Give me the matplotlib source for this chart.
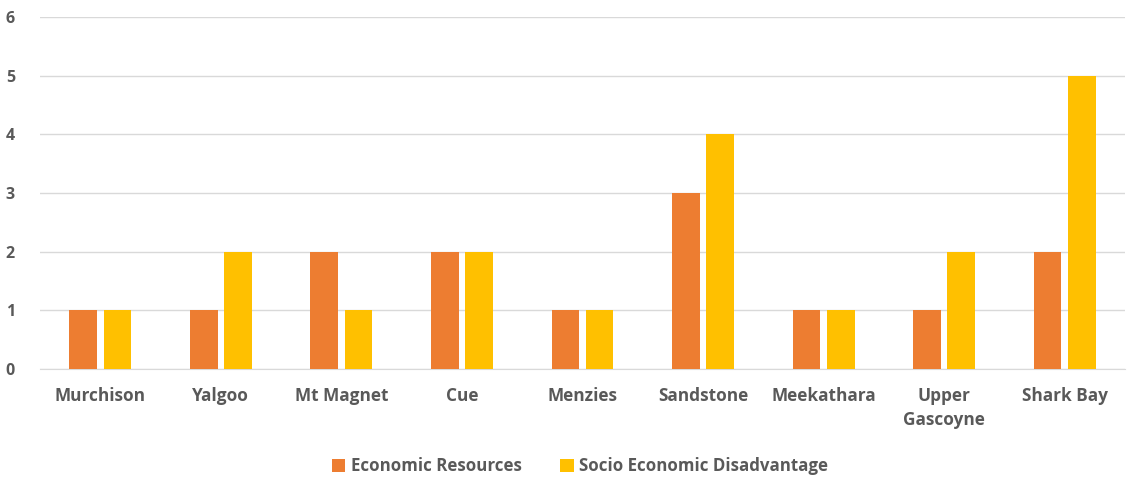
import matplotlib
matplotlib.use("Agg")
import matplotlib.pyplot as plt
import numpy as np

categories = ["Murchison", "Yalgoo", "Mt Magnet", "Cue", "Menzies", "Sandstone",
              "Meekathara", "Upper\nGascoyne", "Shark Bay"]
economic_resources = [1, 1, 2, 2, 1, 3, 1, 1, 2]
socio_economic = [1, 2, 1, 2, 1, 4, 1, 2, 5]
yticks = [0, 1, 2, 3, 4, 5, 6]

plt.rcParams['font.family'] = ['Open Sans', 'DejaVu Sans']
text_color = "#595959"

fig = plt.figure(figsize=(11.28, 4.79), dpi=100)
ax = fig.add_axes([40/1128, 1-369/479, (1125-40)/1128, (369-17)/479])

x = np.arange(len(categories))
w = 0.23
ax.bar(x - 0.142, economic_resources, width=w, color="#ED7D31", label="Economic Resources", zorder=3)
ax.bar(x + 0.142, socio_economic, width=w, color="#FFC000", label="Socio Economic Disadvantage", zorder=3)

ax.set_xlim(-0.5, len(categories) - 0.5)
ax.set_ylim(0, 6)
ax.set_yticks(yticks)
ax.set_xticks(x)
ax.set_xticklabels(categories, fontsize=12.4, fontweight="bold", color=text_color, linespacing=1.45)
for lbl in ax.get_yticklabels():
    lbl.set_fontsize(11.5)
    lbl.set_fontweight("bold")
    lbl.set_color(text_color)
ax.tick_params(axis="both", length=0)
ax.tick_params(axis="x", pad=13)
ax.tick_params(axis="y", pad=18)
ax.grid(axis="y", color="#D9D9D9", linewidth=1, zorder=0)
for s in ["top", "right", "left"]:
    ax.spines[s].set_visible(False)
ax.spines["bottom"].set_color("#D9D9D9")

leg = fig.legend(loc="center", bbox_to_anchor=(580/1128, 1-466/479), ncol=2, frameon=False,
                 handlelength=0.8, handleheight=0.8, handletextpad=0.3, columnspacing=2.3,
                 prop={"size": 12.2, "weight": "bold"})
for t in leg.get_texts():
    t.set_color(text_color)

fig.savefig("out.png", dpi=100)
